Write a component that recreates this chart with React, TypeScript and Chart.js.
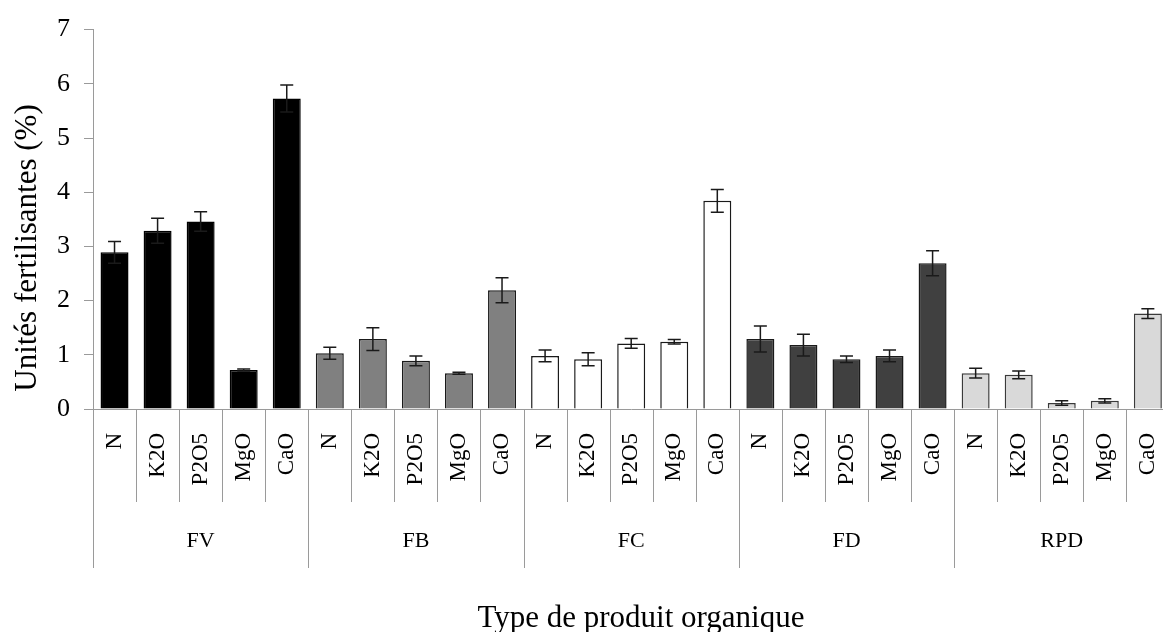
import React, { useEffect, useRef } from 'react';
import { Chart, registerables } from 'chart.js';

Chart.register(...registerables);

// Product groups and the nutrients measured for each
const groups = ['FV', 'FB', 'FC', 'FD', 'RPD'];
const nutrients = ['N', 'K2O', 'P2O5', 'MgO', 'CaO'];

// Mean fertilising units (%) and their error margins, in nutrient order
const fvValues = [2.89, 3.29, 3.46, 0.72, 5.73];
const fvErrors = [0.2, 0.23, 0.18, 0.02, 0.25];
const fbValues = [1.03, 1.29, 0.89, 0.66, 2.19];
const fbErrors = [0.11, 0.21, 0.09, 0.02, 0.23];
const fcValues = [0.98, 0.92, 1.21, 1.24, 3.84];
const fcErrors = [0.11, 0.12, 0.09, 0.04, 0.21];
const fdValues = [1.29, 1.18, 0.92, 0.98, 2.69];
const fdErrors = [0.24, 0.2, 0.06, 0.11, 0.23];
const rpdValues = [0.66, 0.63, 0.11, 0.15, 1.76];
const rpdErrors = [0.09, 0.07, 0.04, 0.04, 0.09];

const yTickValues = [0, 1, 2, 3, 4, 5, 6, 7];

const groupFills = ['#000000', '#808080', '#ffffff', '#404040', '#d9d9d9'];
const groupBorders = ['#000000', '#1a1a1a', '#1a1a1a', '#1a1a1a', '#3a3a3a'];

const yTitle = 'Unités fertilisantes (%)';
const xTitle = 'Type de produit organique';

const allValues = [...fvValues, ...fbValues, ...fcValues, ...fdValues, ...rpdValues];
const allErrors = [...fvErrors, ...fbErrors, ...fcErrors, ...fdErrors, ...rpdErrors];
const labels = groups.flatMap(() => nutrients);
const fills = groups.flatMap((_, g) => nutrients.map(() => groupFills[g]));
const borders = groups.flatMap((_, g) => nutrients.map(() => groupBorders[g]));

const SERIF = '"Liberation Serif", "Times New Roman", serif';
const LINE_GREY = '#9a9a9a';

// Error bars drawn on top of every bar
const errorBarPlugin = {
  id: 'errorBars',
  afterDatasetsDraw(chart: any) {
    const meta = chart.getDatasetMeta(0);
    const yScale = chart.scales.y;
    const ctx = chart.ctx;
    ctx.save();
    ctx.strokeStyle = '#1a1a1a';
    ctx.lineWidth = 1.5;
    const cap = 6.5;
    meta.data.forEach((bar: any, i: number) => {
      const v = allValues[i];
      const e = allErrors[i];
      const x = bar.x;
      const yTop = yScale.getPixelForValue(v + e);
      const yBot = yScale.getPixelForValue(Math.max(0, v - e));
      ctx.beginPath();
      ctx.moveTo(x, yTop);
      ctx.lineTo(x, yBot);
      ctx.moveTo(x - cap, yTop);
      ctx.lineTo(x + cap, yTop);
      ctx.moveTo(x - cap, yBot);
      ctx.lineTo(x + cap, yBot);
      ctx.stroke();
    });
    ctx.restore();
  },
};

// Category separators, group labels and axis titles
const axisDecorPlugin = {
  id: 'axisDecor',
  afterDraw(chart: any) {
    const ctx = chart.ctx;
    const xScale = chart.scales.x;
    const area = chart.chartArea;
    const p0 = xScale.getPixelForValue(0);
    const step = xScale.getPixelForValue(1) - p0;
    const start = p0 - step / 2;
    const base = area.bottom;

    ctx.save();
    ctx.strokeStyle = LINE_GREY;
    ctx.lineWidth = 1;
    for (let k = 0; k <= labels.length; k++) {
      const x = Math.round(start + k * step) + 0.5;
      const long = k % nutrients.length === 0;
      ctx.beginPath();
      ctx.moveTo(x, base);
      ctx.lineTo(x, base + (long ? 159 : 93));
      ctx.stroke();
    }

    ctx.fillStyle = '#000';
    ctx.font = `22px ${SERIF}`;
    ctx.textAlign = 'center';
    ctx.textBaseline = 'alphabetic';
    groups.forEach((g, gi) => {
      const cx = start + (gi * nutrients.length + nutrients.length / 2) * step;
      ctx.fillText(g, cx, base + 138);
    });

    ctx.font = `31px ${SERIF}`;
    ctx.fillText(xTitle, 641, 627);

    ctx.translate(28, 248);
    ctx.rotate(-Math.PI / 2);
    ctx.textBaseline = 'middle';
    ctx.font = `31px ${SERIF}`;
    ctx.fillText(yTitle, 0, 0);
    ctx.restore();
  },
};

export default function App() {
  const canvasRef = useRef<HTMLCanvasElement | null>(null);

  useEffect(() => {
    const canvas = canvasRef.current;
    if (!canvas) return;
    const chart = new Chart(canvas, {
      type: 'bar',
      data: {
        labels,
        datasets: [
          {
            data: allValues,
            backgroundColor: fills,
            borderColor: borders,
            borderWidth: 1.5,
            barPercentage: 0.65,
            categoryPercentage: 1,
          },
        ],
      },
      options: {
        responsive: false,
        maintainAspectRatio: false,
        devicePixelRatio: 1,
        animation: false,
        layout: { padding: { top: 25, right: 27, bottom: 0, left: 0 } },
        plugins: {
          legend: { display: false },
          tooltip: { enabled: false },
        },
        scales: {
          x: {
            type: 'category',
            offset: true,
            grid: { display: true, drawOnChartArea: false, drawTicks: false },
            border: { display: true, color: LINE_GREY, width: 1 },
            ticks: {
              autoSkip: false,
              minRotation: 90,
              maxRotation: 90,
              padding: 24,
              color: '#000',
              font: { family: SERIF, size: 23 },
            },
            afterFit: (scale: any) => {
              scale.height = 223;
            },
          },
          y: {
            min: 0,
            max: 7,
            afterBuildTicks: (scale: any) => {
              scale.ticks = yTickValues.map((v) => ({ value: v }));
            },
            grid: {
              display: true,
              drawOnChartArea: false,
              drawTicks: true,
              tickLength: 9,
              color: LINE_GREY,
            },
            border: { display: true, color: LINE_GREY, width: 1 },
            ticks: {
              padding: 14,
              color: '#000',
              font: { family: SERIF, size: 26 },
            },
            afterFit: (scale: any) => {
              scale.width = 93;
            },
          },
        },
      },
      plugins: [errorBarPlugin, axisDecorPlugin],
    });
    return () => chart.destroy();
  }, []);

  return (
    <div
      style={{
        position: 'fixed',
        left: 0,
        top: 0,
        width: 1163,
        height: 632,
        overflow: 'hidden',
        background: '#fff',
      }}
    >
      <canvas ref={canvasRef} width={1200} height={632} style={{ display: 'block' }} />
    </div>
  );
}
